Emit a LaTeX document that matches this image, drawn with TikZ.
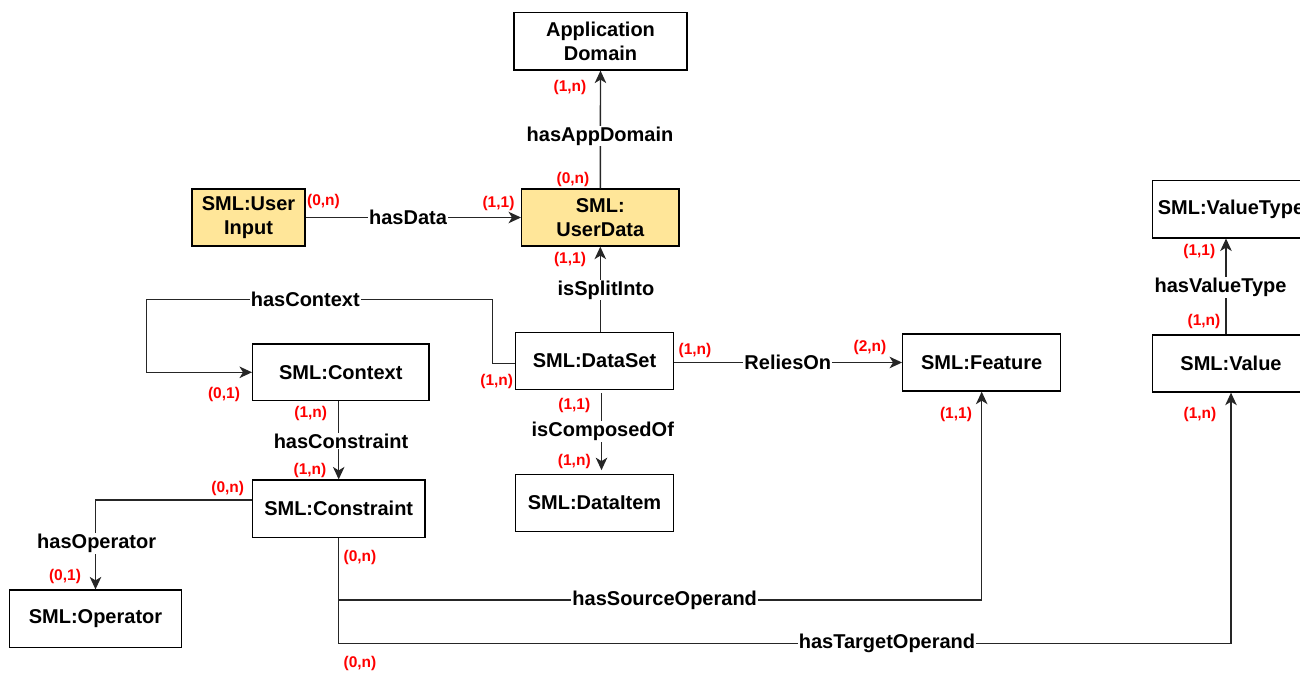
\documentclass[tikz,border=0pt]{standalone}
\usepackage{fontspec}
\setmainfont{Liberation Sans}
\usetikzlibrary{arrows.meta}
\definecolor{entityfill}{HTML}{FFE699}
\definecolor{cardred}{HTML}{FF0000}
\tikzset{
  entity/.style={draw=black, line width=1.3pt, fill=white, inner sep=2pt, align=center,
                 font=\fontsize{20}{23.5}\selectfont\bfseries},
  userent/.style={entity, fill=entityfill},
  rel/.style={draw=black!85, line width=1.4pt, -{Stealth[length=12.5pt,width=11.5pt,inset=3.5pt]}},
  rellabel/.style={fill=white, inner sep=1pt, font=\fontsize{20}{23.5}\selectfont\bfseries},
  card/.style={text=cardred, inner sep=0pt, font=\fontsize{15.5}{18}\selectfont\bfseries},
}
\begin{document}
\begin{tikzpicture}[x=1pt,y=-1pt]
\path[use as bounding box] (0,0) rectangle (1300,672);
\clip (0,0) rectangle (1300,672);

% entities
\node[entity, minimum width=173pt, minimum height=57.3pt] (appdom) at (600.5,41.3) {Application\\Domain};
\node[userent, minimum width=157.3pt, minimum height=57pt] (userdata) at (600.3,217.5) {SML:\\UserData};
\node[userent, minimum width=113pt, minimum height=57pt] (userinput) at (248.5,217.5) {SML:User\\Input};
\node[entity, minimum width=176.3pt, minimum height=56.7pt] (context) at (340.8,372.3) {SML:Context};
\node[entity, minimum width=157.7pt, minimum height=57pt] (dataset) at (594.5,360.8) {SML:DataSet};
\node[entity, minimum width=157.6pt, minimum height=57.4pt] (dataitem) at (594.5,503) {SML:DataItem};
\node[entity, minimum width=172.7pt, minimum height=57.3pt] (constraint) at (338.7,508.7) {SML:Constraint};
\node[entity, minimum width=172.4pt, minimum height=57.3pt] (operator) at (95.5,618.7) {SML:Operator};
\node[entity, minimum width=158pt, minimum height=57pt] (feature) at (981.7,362.5) {SML:Feature};
\node[entity, minimum width=157.4pt, minimum height=57pt] (value) at (1231,363.5) {SML:Value};
\node[entity, minimum width=157.4pt, minimum height=57.7pt] (valuetype) at (1231,209) {SML:ValueType};

% relations
\coordinate (srcrow) at (700,600);
\coordinate (tgtrow) at (800,643.3);
\draw[rel] (userdata.north) -- (appdom.south);
\draw[rel] (userinput.east) -- (userdata.west);
\draw[rel] (userdata.south |- dataset.north) -- (userdata.south);
\draw[rel, shorten <=3.5pt, shorten >=3.5pt] ([xshift=7pt]dataset.south) -- ([xshift=7pt]dataitem.north);
\draw[rel] ([yshift=-2.5pt]dataset.west) -- ++(-22.4,0) |- (146.7,299.3) |- (context.west);
\draw[rel] (constraint.north |- context.south) -- (constraint.north);
\draw[rel] ([yshift=8.7pt]constraint.west) -| (operator.north);
\draw[rel] (dataset.east |- feature.west) -- (feature.west);
\draw[rel] (constraint.south) |- (srcrow) -| (feature.south);
\draw[rel] (constraint.south) |- (tgtrow) -| (value.south);
\draw[rel] ([xshift=-5pt]value.north) -- ([xshift=-5pt]valuetype.south);

% relation names
\node[rellabel] (lAppDomain) at (600,136) {hasAppDomain};
\node[rellabel] (lData) at (408,217.5) {hasData};
\node[rellabel] (lSplit) at (606,290) {isSplitInto};
\node[rellabel] (lComposed) at (602.8,431.7) {isComposedOf};
\node[rellabel] (lContext) at (305.3,299.3) {hasContext};
\node[rellabel] (lConstraint) at (341,441) {hasConstraint};
\node[rellabel] (lOperator) at (96.7,543.3) {hasOperator};
\node[rellabel] (lRelies) at (787.8,362.7) {ReliesOn};
\node[rellabel] (lSource) at (664.7,600) {hasSourceOperand};
\node[rellabel] (lTarget) at (887,643.3) {hasTargetOperand};
\node[rellabel] (lValueType) at (1220.5,287.3) {hasValueType};

% cardinalities
\node[card] (cAppDom) at (570,87.5) {(1,n)};
\node[card] (cUserDataTop) at (573,179) {(0,n)};
\node[card] (cUserInput) at (323.5,201.7) {(0,n)};
\node[card] (cUserDataLeft) at (498.5,203) {(1,1)};
\node[card] (cUserDataBottom) at (570,259.3) {(1,1)};
\node[card] (cDataSetLeft) at (496.7,381.7) {(1,n)};
\node[card] (cContextLeft) at (224,394) {(0,1)};
\node[card] (cContextBottom) at (310.7,413.3) {(1,n)};
\node[card] (cConstraintTop) at (310,470) {(1,n)};
\node[card] (cConstraintLeft) at (227.7,488.3) {(0,n)};
\node[card] (cOperator) at (65,576.7) {(0,1)};
\node[card] (cConstraintBottom) at (360,557.3) {(0,n)};
\node[card] (cConstraintTarget) at (360,663.3) {(0,n)};
\node[card] (cDataSetBottom) at (574.3,405) {(1,1)};
\node[card] (cDataItem) at (574.3,461.7) {(1,n)};
\node[card] (cDataSetRight) at (695,350.7) {(1,n)};
\node[card] (cFeatureLeft) at (870,347.3) {(2,n)};
\node[card] (cFeatureBottom) at (956,414.3) {(1,1)};
\node[card] (cValueBottom) at (1200,414) {(1,n)};
\node[card] (cValueTop) at (1204,321.7) {(1,n)};
\node[card] (cValueType) at (1199.3,251.7) {(1,1)};
\end{tikzpicture}
\end{document}
